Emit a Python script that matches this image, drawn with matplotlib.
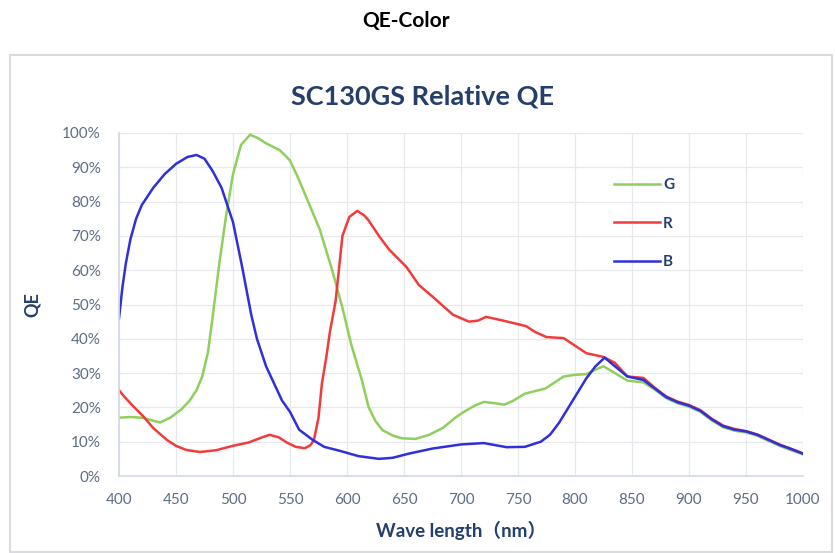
import matplotlib
matplotlib.use('Agg')
import matplotlib.pyplot as plt
from matplotlib.patches import Rectangle
from matplotlib.ticker import MultipleLocator, FuncFormatter

# data (wavelength nm, QE %)
g_wl = [400, 410, 420, 428, 436, 445, 455, 462, 468, 473, 478, 482, 488, 494, 500, 507, 515, 522,
        529, 541, 550, 557, 564, 576, 587, 596, 604, 613, 619, 625, 631, 640, 648, 660, 672, 684,
        695, 702, 712, 720, 730, 738, 745, 756, 774, 790, 800, 810, 818, 825, 835, 846, 860,
        870, 880, 890, 900, 910, 920, 930, 940, 950, 960, 970, 980, 990, 1000]
g_qe = [17, 17.2, 17, 16.3, 15.6, 17, 19.5, 22, 25, 29, 36, 46, 62, 76, 88, 96.5, 99.5, 98.5,
        97, 95, 92, 87, 81.5, 72, 60, 49, 38, 28, 20, 16, 13.4, 11.8, 11, 10.8, 12, 14,
        17, 18.6, 20.5, 21.6, 21.2, 20.8, 21.8, 24, 25.5, 29, 29.5, 29.7, 31, 32, 30, 27.8, 27.3,
        25.2, 22.7, 21.2, 20.2, 18.7, 16.2, 14.2, 13.2, 12.7, 11.7, 10.2, 8.7, 7.5, 6.3]

r_wl = [400, 405, 412, 421, 430, 442, 450, 459, 471, 485, 500, 514, 525, 532, 540, 547, 555, 563,
        568, 571, 575, 578, 582, 585, 590, 596, 602, 609, 615, 619, 628, 637, 652, 663, 675, 693,
        707, 715, 722, 737, 757, 765, 775, 790, 800, 810, 825, 835, 846, 860,
        870, 880, 890, 900, 910, 920, 930, 940, 950, 960, 970, 980, 990, 1000]
r_qe = [25, 23, 20.5, 17.5, 14, 10.5, 8.8, 7.6, 7.0, 7.5, 8.8, 9.8, 11.2, 12, 11.3, 9.8, 8.5, 8.1,
        9, 10.5, 17, 27, 35, 42, 51, 70, 75.5, 77.3, 76, 74.5, 70, 66, 61, 55.7, 52.3, 47,
        45, 45.3, 46.4, 45.3, 43.7, 42, 40.5, 40.2, 38, 35.8, 34.7, 33, 29, 28.6,
        25.7, 23.2, 21.7, 20.7, 19.2, 16.7, 14.7, 13.7, 13.1, 12.1, 10.6, 9.1, 7.9, 6.6]

b_wl = [400, 403, 406, 410, 415, 420, 430, 440, 450, 460, 468, 475, 482, 490, 500, 508, 516, 521,
        529, 543, 550, 558, 570, 580, 593, 610, 628, 640, 654, 675, 700, 720, 740, 756, 770, 778,
        786, 798, 810, 818, 826, 835, 846, 860,
        870, 880, 890, 900, 910, 920, 930, 940, 950, 960, 970, 980, 990, 1000]
b_qe = [46, 55, 62, 69, 75, 79, 84, 88, 91, 93, 93.6, 92.5, 89, 84, 74, 61, 47, 40,
        32, 22, 18.7, 13.5, 10.5, 8.5, 7.4, 5.8, 5.0, 5.3, 6.5, 8, 9.2, 9.6, 8.4, 8.5, 10, 12,
        15.5, 22, 28.5, 32, 34.5, 32, 29, 28,
        25.5, 23, 21.5, 20.5, 19, 16.5, 14.5, 13.5, 13, 12, 10.5, 9, 7.8, 6.5]

x_ticks = list(range(400, 1001, 50))

navy = '#243f6b'
tick_col = '#5d6d84'
fam = ['Lato', 'Noto Sans CJK SC', 'DejaVu Sans']

fig = plt.figure(figsize=(8.35, 5.53), dpi=100)

# outer frame
fig.patches.append(Rectangle((10 / 835, 1 / 553), 822 / 835, 497 / 553, transform=fig.transFigure,
                             facecolor='none', edgecolor='#d8dbe0', linewidth=1.5, zorder=-1))

fig.text(406 / 835, 1 - 21 / 553, 'QE-Color', ha='center', va='center', fontsize=15,
         fontweight='bold', family=fam, color='black')
fig.text(423 / 835, 1 - 97 / 553, 'SC130GS Relative QE', ha='center', va='center', fontsize=19.5,
         fontweight='bold', family=fam, color=navy)

ax = fig.add_axes([119 / 835, 1 - 476 / 553, 684 / 835, 343 / 553])
ax.patch.set_alpha(0)
ax.plot(g_wl, g_qe, color='#8fcf5c', lw=1.8, label='G')
ax.plot(r_wl, r_qe, color='#f23b3b', lw=1.8, label='R')
ax.plot(b_wl, b_qe, color='#2f2fdc', lw=1.8, label='B')

ax.set_xlim(400, 1000)
ax.set_ylim(0, 100)
ax.set_xticks(x_ticks)
ax.yaxis.set_major_locator(MultipleLocator(10))
ax.yaxis.set_major_formatter(FuncFormatter(lambda v, p: f'{v:.0f}%'))
ax.grid(True, color='#e6e9ee', lw=0.9)
ax.set_axisbelow(True)
for s in ['top', 'right']:
    ax.spines[s].set_visible(False)
for s in ['left', 'bottom']:
    ax.spines[s].set_color('#d3d9e3')
    ax.spines[s].set_linewidth(1.2)
ax.tick_params(axis='x', length=0, pad=12, labelsize=11, labelcolor=tick_col)
ax.tick_params(axis='y', length=0, pad=13, labelsize=11, labelcolor=tick_col)
for lab in ax.get_xticklabels() + ax.get_yticklabels():
    lab.set_family(fam)

ax.set_xlabel('Wave length（nm）', fontsize=13.5, fontweight='bold', color=navy, family=fam, labelpad=10)
ax.set_ylabel('QE', fontsize=13, fontweight='bold', color=navy, family=fam, labelpad=15)

leg = ax.legend(loc='upper left', bbox_to_anchor=(0.713, 0.89), frameon=False, handlelength=3.0,
                handletextpad=0.2, labelspacing=1.6, borderpad=0,
                prop={'family': fam, 'weight': 'bold', 'size': 11})
for t in leg.get_texts():
    t.set_color(navy)

fig.savefig('out.png', dpi=100)
